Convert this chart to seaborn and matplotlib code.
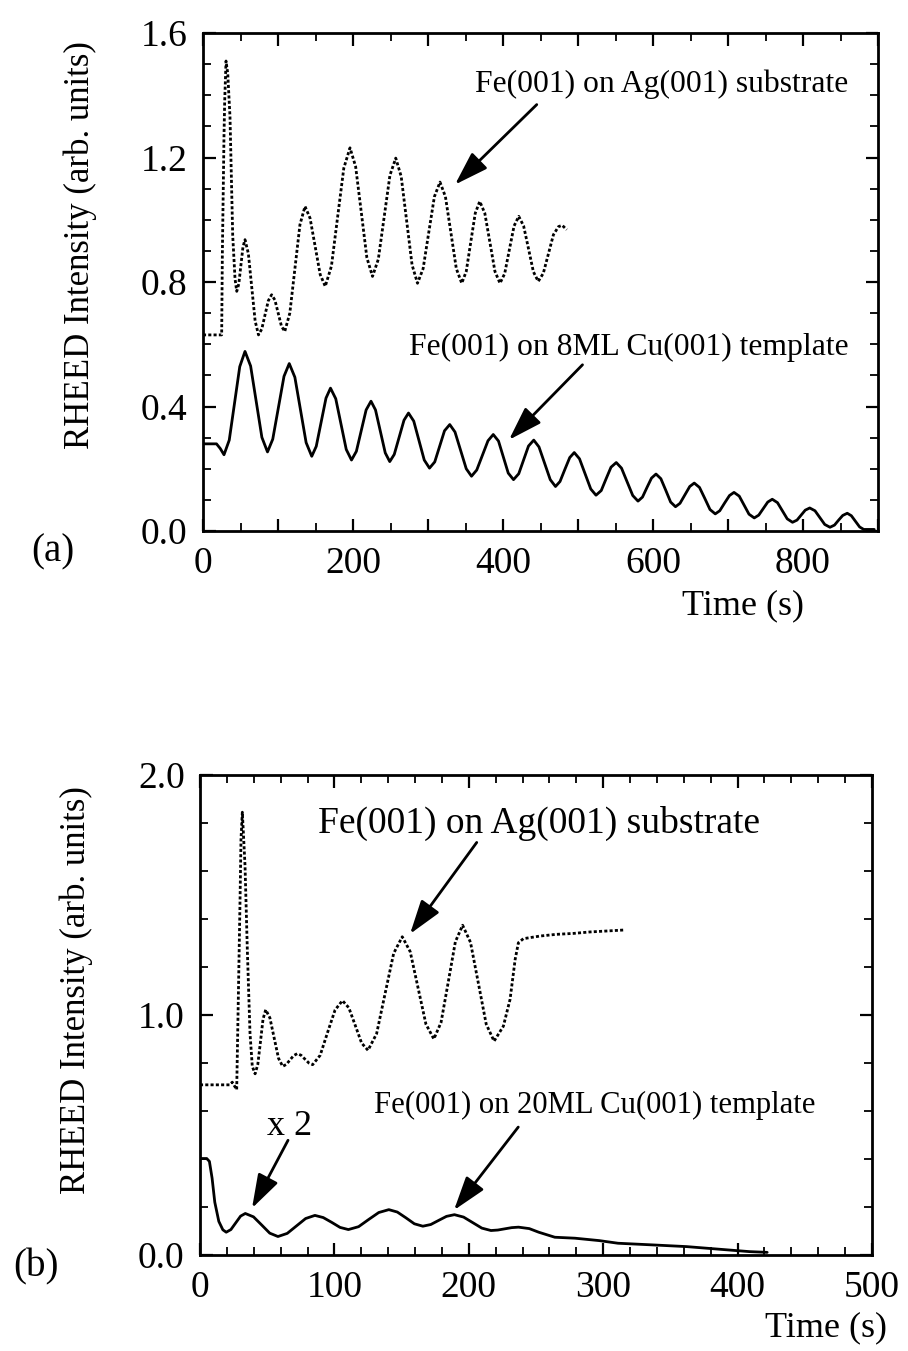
import numpy as np
import pandas as pd
import matplotlib
matplotlib.use("Agg")
import matplotlib.pyplot as plt
from matplotlib.ticker import MultipleLocator, FixedLocator, FuncFormatter
import seaborn as sns

# ---------------- data ----------------
# Panel (a): Fe(001) on Ag(001) substrate (dotted)
a_ag_t = [0, 24.9, 25.8, 28, 28.9, 30.7, 33, 36, 39.6, 42.7, 45,
          47.75, 50.5, 53.25, 56, 60.5, 65, 69.5, 74, 78.4, 82.75, 87.1, 91.5,
          95.9, 100.25, 104.6, 109, 115.75, 122.5, 129.25, 136, 142.75, 149.5, 156.25, 163,
          171.25, 179.5, 187.75, 196, 203.5, 211, 218.5, 226, 233.75, 241.5, 249.25, 257,
          264.25, 271.5, 278.75, 286, 293.5, 301, 308.5, 316, 323.25, 330.5, 337.75, 345,
          351, 357, 363, 369, 375.75, 382.5, 389.25, 396, 402.25, 408.5, 414.75, 421,
          427.5, 434, 440.5, 447, 453.75, 460.5, 467.25, 474, 479, 485]
a_ag_v = [0.630, 0.630, 0.89, 1.27, 1.38, 1.51, 1.47, 1.33, 0.95, 0.81, 0.770,
          0.794, 0.853, 0.912, 0.936, 0.891, 0.783, 0.675, 0.630, 0.649, 0.695, 0.740, 0.759,
          0.742, 0.700, 0.658, 0.641, 0.700, 0.842, 0.984, 1.043, 1.005, 0.915, 0.824, 0.786,
          0.851, 1.009, 1.166, 1.231, 1.171, 1.025, 0.878, 0.818, 0.873, 1.008, 1.143, 1.198,
          1.139, 0.997, 0.855, 0.796, 0.843, 0.959, 1.074, 1.121, 1.074, 0.959, 0.843, 0.796,
          0.834, 0.928, 1.021, 1.059, 1.021, 0.928, 0.834, 0.796, 0.827, 0.904, 0.980, 1.011,
          0.980, 0.907, 0.833, 0.802, 0.828, 0.890, 0.952, 0.978, 0.982, 0.968]

# Panel (a): Fe(001) on 8ML Cu(001) template (solid)
a_cu_t = [0, 18, 23, 28, 35, 42, 49, 56, 63.5, 71, 78.5, 86, 93, 100.5, 108, 115,
          122.5, 130, 137.5, 145, 151, 157.5, 164, 170, 177, 184, 191, 198,
          204.5, 211, 217.5, 224, 230, 236.5, 243, 249, 255, 261.5, 268, 274,
          281, 288, 295, 302, 309, 315.5, 322, 329, 336, 343.5, 351, 358,
          365, 372.5, 380, 387, 394, 400.5, 407, 414, 421, 427.5, 434, 441,
          448, 455.5, 463, 470, 476, 482.5, 489, 495, 502, 509.5, 517, 524,
          531, 537.5, 544, 551, 558, 565.5, 573, 580, 586, 592, 598, 604,
          610.5, 617, 623.5, 630, 636, 642.5, 649, 655, 662, 669, 676, 683,
          689, 695.5, 702, 708, 715, 721.5, 728, 735, 741, 747, 753, 759,
          766, 772.5, 779, 786, 792, 797.5, 803, 809, 816, 822.5, 829, 836,
          842, 847.5, 853, 859, 864.5, 870, 875.5, 881, 895]
a_cu_v = [0.280, 0.280, 0.265, 0.245, 0.292, 0.410, 0.528, 0.577, 0.530, 0.416, 0.301, 0.254,
          0.295, 0.396, 0.497, 0.538, 0.494, 0.389, 0.284, 0.240, 0.272, 0.350, 0.427, 0.459,
          0.425, 0.344, 0.262, 0.228, 0.256, 0.323, 0.389, 0.417, 0.389, 0.320, 0.251, 0.223,
          0.246, 0.301, 0.356, 0.379, 0.353, 0.291, 0.228, 0.202, 0.222, 0.272, 0.322, 0.342,
          0.318, 0.259, 0.200, 0.176, 0.196, 0.243, 0.290, 0.310, 0.289, 0.238, 0.186, 0.165,
          0.184, 0.229, 0.273, 0.292, 0.270, 0.218, 0.165, 0.143, 0.159, 0.198, 0.236, 0.252,
          0.232, 0.184, 0.135, 0.115, 0.130, 0.168, 0.205, 0.220, 0.202, 0.158, 0.114, 0.096,
          0.109, 0.140, 0.170, 0.183, 0.168, 0.131, 0.093, 0.078, 0.089, 0.116, 0.143, 0.154,
          0.140, 0.105, 0.069, 0.055, 0.065, 0.090, 0.114, 0.124, 0.112, 0.083, 0.054, 0.042,
          0.051, 0.072, 0.093, 0.102, 0.091, 0.065, 0.039, 0.028, 0.035, 0.051, 0.067, 0.074,
          0.065, 0.043, 0.021, 0.012, 0.019, 0.035, 0.050, 0.057, 0.049, 0.031, 0.013, 0.005, 0.005]

# Panel (b): Fe(001) on Ag(001) substrate (dotted)
b_ag_t = [0, 22, 24, 27.3, 28.5, 29.8, 30.5, 31.5, 33.5, 35.2, 37.2, 38.9, 41,
          43, 45, 46.9, 48.9, 52, 55.2, 58.4, 61.5, 64.2, 67, 69.7, 72.4,
          75.25, 78.1, 81, 83.8, 89.4, 94.9, 100.5, 106, 110.75, 115.5, 120.25, 125,
          131.4, 137.75, 144.1, 150.5, 156.4, 162.25, 168.1, 174, 179.35, 184.7, 190, 195.4,
          201.25, 207.1, 212.95, 218.8, 225.7, 230.7, 234.5, 236.9, 240.6, 253, 265,
          278, 290, 302.6, 315]
b_ag_v = [0.709, 0.709, 0.72, 0.689, 1.065, 1.482, 1.733, 1.845, 1.622, 1.274, 0.925, 0.786, 0.755,
          0.794, 0.889, 0.983, 1.022, 0.988, 0.904, 0.820, 0.786, 0.794, 0.813, 0.831, 0.839,
          0.832, 0.816, 0.800, 0.793, 0.832, 0.927, 1.021, 1.060, 1.030, 0.957, 0.883, 0.853,
          0.922, 1.090, 1.257, 1.326, 1.264, 1.113, 0.962, 0.900, 0.969, 1.137, 1.305, 1.374,
          1.303, 1.133, 0.962, 0.891, 0.953, 1.065, 1.232, 1.301, 1.318, 1.329, 1.336,
          1.340, 1.346, 1.350, 1.354]

# Panel (b): Fe(001) on 20ML Cu(001) template, x 2 (solid)
b_cu_t = [0, 5, 7, 9, 11, 14, 17, 19.5, 23, 26.6, 30.2, 33.7, 39.8, 45.9, 51.9, 58,
          64.9, 71.75, 78.6, 85.5, 91.7, 98, 104.2, 110.4, 118, 125.5, 133, 140.5,
          146.8, 153.2, 159.5, 165.8, 171.7, 177.5, 183.4, 189.3, 196.1, 202.9, 209.7, 216.5,
          221.6, 226.75, 231.9, 237, 245, 252, 264, 279, 297, 311, 337, 362, 391, 409, 422]
b_cu_v = [0.402, 0.402, 0.39, 0.32, 0.22, 0.14, 0.105, 0.095, 0.106, 0.134, 0.162, 0.173,
          0.159, 0.125, 0.091, 0.077, 0.090, 0.121, 0.152, 0.165, 0.156, 0.136, 0.115, 0.106,
          0.118, 0.148, 0.177, 0.189, 0.179, 0.155, 0.130, 0.120, 0.127, 0.144, 0.161, 0.168,
          0.158, 0.135, 0.112, 0.102, 0.104, 0.109, 0.114, 0.116, 0.110, 0.095, 0.074, 0.070,
          0.060, 0.049, 0.042, 0.035, 0.022, 0.014, 0.011]

a_xticks = [0, 200, 400, 600, 800]
a_yticks = [0.0, 0.4, 0.8, 1.2, 1.6]
b_xticks = [0, 100, 200, 300, 400, 500]
b_yticks = [0.0, 1.0, 2.0]

label_a_ag = "Fe(001) on Ag(001) substrate"
label_a_cu = "Fe(001) on 8ML Cu(001) template"
label_b_ag = "Fe(001) on Ag(001) substrate"
label_b_cu = "Fe(001) on 20ML Cu(001) template"
ylab = "RHEED Intensity (arb. units)"
xlab = "Time (s)"

# ---------------- style ----------------
sns.set_theme(style="ticks")
plt.rcParams['font.family'] = ['Liberation Serif', 'DejaVu Serif']
plt.rcParams['text.color'] = 'black'
plt.rcParams['axes.labelcolor'] = 'black'
plt.rcParams['xtick.color'] = 'black'
plt.rcParams['ytick.color'] = 'black'

fig = plt.figure(figsize=(9.08, 13.51), dpi=100)
W, H = 908, 1351
def axrect(l, r, t, b):
    return [l / W, 1 - b / H, (r - l) / W, (b - t) / H]

ax1 = fig.add_axes(axrect(203, 878, 33, 531))
ax2 = fig.add_axes(axrect(200, 872, 775, 1255))

dotted = (0, (1.1, 0.8))
sns.lineplot(x=a_ag_t, y=a_ag_v, ax=ax1, color='black', lw=2.0, linestyle=dotted,
             estimator=None, sort=False)
sns.lineplot(x=a_cu_t, y=a_cu_v, ax=ax1, color='black', lw=2.0,
             estimator=None, sort=False)
sns.lineplot(x=b_ag_t, y=b_ag_v, ax=ax2, color='black', lw=2.0, linestyle=dotted,
             estimator=None, sort=False)
sns.lineplot(x=b_cu_t, y=b_cu_v, ax=ax2, color='black', lw=2.0,
             estimator=None, sort=False)

tick_fs = 27
for ax in (ax1, ax2):
    for s in ax.spines.values():
        s.set_linewidth(2.0)
        s.set_color('black')
    ax.tick_params(which='both', direction='in', top=True, right=True,
                   colors='black', labelcolor='black', labelsize=tick_fs, pad=11)
    ax.tick_params(which='major', length=9, width=1.6)
    ax.tick_params(which='minor', length=5.5, width=1.3)
    ax.set_xlabel('')
    ax.set_ylabel('')

# panel (a) axes
ax1.set_xlim(0, 900)
ax1.set_ylim(0, 1.6)
ax1.xaxis.set_major_locator(MultipleLocator(100))
ax1.xaxis.set_major_formatter(FuncFormatter(lambda v, p: f"{int(round(v))}" if int(round(v)) in a_xticks else ""))
ax1.xaxis.set_minor_locator(MultipleLocator(50))
ax1.yaxis.set_major_locator(FixedLocator(a_yticks))
ax1.yaxis.set_major_formatter(FuncFormatter(lambda v, p: f"{v:.1f}"))
ax1.yaxis.set_minor_locator(MultipleLocator(0.1))

# panel (b) axes
ax2.set_xlim(0, 500)
ax2.set_ylim(0, 2.0)
ax2.xaxis.set_major_locator(FixedLocator(b_xticks))
ax2.xaxis.set_major_formatter(FuncFormatter(lambda v, p: f"{int(round(v))}"))
ax2.xaxis.set_minor_locator(MultipleLocator(20))
ax2.yaxis.set_major_locator(FixedLocator(b_yticks))
ax2.yaxis.set_major_formatter(FuncFormatter(lambda v, p: f"{v:.1f}"))
ax2.yaxis.set_minor_locator(MultipleLocator(0.2))

# y labels
ax1.set_ylabel(ylab, fontsize=25, color='black')
ax1.yaxis.set_label_coords(-0.157, 0.574)
ax2.set_ylabel(ylab, fontsize=25, color='black')
ax2.yaxis.set_label_coords(-0.159, 0.552)

# x labels
fig.text(743 / W, 1 - 606 / H, xlab, fontsize=26, ha='center', va='center', color='black')
fig.text(826 / W, 1 - 1328 / H, xlab, fontsize=26, ha='center', va='center', color='black')

# panel letters
fig.text(53 / W, 1 - 552 / H, "(a)", fontsize=28, ha='center', va='center', color='black')
fig.text(36 / W, 1 - 1267 / H, "(b)", fontsize=28, ha='center', va='center', color='black')

arrow = dict(arrowstyle='-|>,head_length=0.8,head_width=0.26', color='black', lw=2.0,
             mutation_scale=26, shrinkA=0, shrinkB=0)

# annotations panel (a)
ax1.text(362.7, 1.412, label_a_ag, fontsize=22.8, ha='left', va='baseline', color='black')
ax1.annotate('', xy=(336, 1.113), xytext=(445, 1.370), arrowprops=arrow)
ax1.text(275.3, 0.566, label_a_cu, fontsize=22.8, ha='left', va='baseline', color='black')
ax1.annotate('', xy=(408, 0.293), xytext=(506, 0.534), arrowprops=arrow)

# annotations panel (b)
ax2.text(88, 1.760, label_b_ag, fontsize=27, ha='left', va='baseline', color='black')
ax2.annotate('', xy=(156.3, 1.338), xytext=(205.9, 1.719), arrowprops=arrow)
ax2.text(67, 0.499, "x 2", fontsize=26, ha='center', va='baseline', color='black')
ax2.annotate('', xy=(38.7, 0.195), xytext=(65.5, 0.478), arrowprops=arrow)
ax2.text(129.2, 0.590, label_b_cu, fontsize=22.1, ha='left', va='baseline', color='black')
ax2.annotate('', xy=(189, 0.187), xytext=(236.8, 0.533), arrowprops=arrow)

fig.savefig("out.png", dpi=100, facecolor='white')
